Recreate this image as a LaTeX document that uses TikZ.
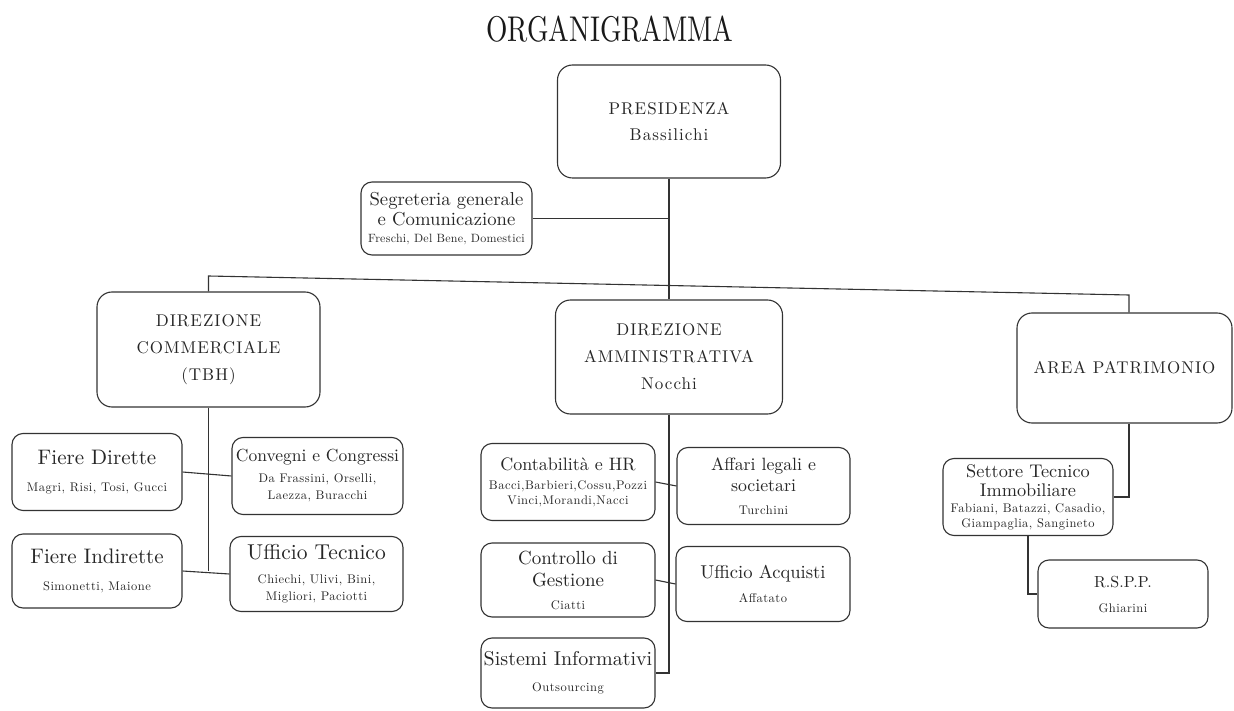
\documentclass[tikz,border=0pt]{standalone}
\usepackage{fontspec}
\usepackage{graphicx}
\setmainfont{lmroman10-regular.otf}[BoldFont=lmroman10-bold.otf,ItalicFont=lmroman10-italic.otf]
\newfontfamily\capsfam{lmroman10-regular.otf}[LetterSpace=6]
\newfontfamily\namefam{lmroman10-regular.otf}[LetterSpace=4]
\newfontfamily\segnamefam{lmroman10-regular.otf}[LetterSpace=2]
\newcommand{\capsf}{\capsfam\fontsize{17}{27}\selectfont}
\newcommand{\namef}{\namefam\fontsize{12.5}{14}\selectfont}
\newcommand{\hf}[2]{\fontsize{#1}{#2}\selectfont}
\begin{document}
\begin{tikzpicture}[x=1pt,y=-1pt,
  box/.style={draw=black!80, line width=1.1pt, rounded corners=11pt, align=center, inner sep=0pt, text=black!85},
  bigbox/.style={box, rounded corners=15pt},
  link/.style={draw=black!80, line width=1.1pt}]
\useasboundingbox (0,0) rectangle (1234,711);

\node[text=black!90] (title) at (610,29) {\fontsize{27.5}{30}\selectfont\scalebox{1}[1.3]{ORGANIGRAMMA}};

% top level
\node[bigbox, minimum width=223, minimum height=113, font=\capsf] (pres) at (669,121.5)
  {PRESIDENZA\\[-1pt]Bassilichi};
\node[box, minimum width=171, minimum height=73, font=\hf{18.7}{20}] (seg) at (446.5,218.5)
  {Segreteria generale\\e Comunicazione\\[-3pt]\segnamefam\fontsize{12}{14}\selectfont Freschi, Del Bene, Domestici};

\node[bigbox, minimum width=223, minimum height=115, font=\capsf] (dc) at (208.5,349.5)
  {DIREZIONE\\COMMERCIALE\\(TBH)};
\node[bigbox, minimum width=227, minimum height=114, font=\capsf] (da) at (669,357)
  {DIREZIONE\\AMMINISTRATIVA\\Nocchi};
\node[bigbox, minimum width=215, minimum height=110, font=\capsf] (ap) at (1124.5,368)
  {AREA PATRIMONIO};

% commerciale
\node[box, minimum width=170, minimum height=77, font=\hf{21}{24}] (fd) at (97,472)
  {Fiere Dirette\\[3pt]\namef Magri, Risi, Tosi, Gucci};
\node[box, minimum width=171, minimum height=77, font=\hf{17.5}{20}] (cc) at (317.5,476)
  {Convegni e Congressi\\[1pt]\namef Da Frassini, Orselli,\\[-3pt]\namef Laezza, Buracchi};
\node[box, minimum width=170, minimum height=74, font=\hf{21}{24}] (fi) at (97,571)
  {Fiere Indirette\\[3pt]\namef Simonetti, Maione};
\node[box, minimum width=173, minimum height=75, font=\hf{21.5}{24}] (ut) at (316.5,574)
  {Ufficio Tecnico\\[0pt]\namef Chiechi, Ulivi, Bini,\\[-7pt]\namef Migliori, Paciotti};

% amministrativa
\node[box, minimum width=174, minimum height=77, font=\hf{18}{21}] (ch) at (568,482)
  {Contabilità e HR\\[-2pt]\namef Bacci,Barbieri,Cossu,Pozzi\\[-6pt]\namef Vinci,Morandi,Nacci};
\node[box, minimum width=173, minimum height=77, font=\hf{17.8}{21}] (al) at (763.5,486)
  {Affari legali e\\societari\\[2pt]\namef Turchini};
\node[box, minimum width=174, minimum height=74, font=\hf{19}{22}] (cg) at (568,580)
  {Controllo di\\Gestione\\[1pt]\namef Ciatti};
\node[box, minimum width=174, minimum height=75, font=\hf{18.6}{21}] (ua) at (763,584)
  {Ufficio Acquisti\\[3pt]\namef Affatato};
\node[box, minimum width=174, minimum height=70, font=\hf{20}{23}] (si) at (568,673)
  {Sistemi Informativi\\[3pt]\namef Outsourcing};

% patrimonio
\node[box, minimum width=170, minimum height=77, font=\hf{18.3}{19}] (st) at (1028,497)
  {Settore Tecnico\\Immobiliare\\[-3pt]\namef Fabiani, Batazzi, Casadio,\\[-4pt]\namef Giampaglia, Sangineto};
\node[box, minimum width=170, minimum height=68, font=\hf{16}{19}] (rs) at (1123,594)
  {R.S.P.P.\\[6pt]\namef Ghiarini};

% connectors
\coordinate (barL) at (208.5,276);
\coordinate (barR) at (1129,295);
\draw[link] (pres.south) -- (da.north);
\draw[link] (seg.east) -- (seg.east -| pres.south);
\draw[link] (dc.north) -- (barL) -- (barR) -- (barR |- ap.north);

\draw[link] (dc.south) -- (dc.south |- fi.east);
\draw[link] (fd.east) -- (cc.west);
\draw[link] (fi.east) -- (ut.west);

\draw[link] (da.south) -- (da.south |- si.east) -- (si.east);
\draw[link] (ch.east) -- (al.west);
\draw[link] (cg.east) -- (ua.west);

\draw[link] (barR |- ap.south) |- (st.east);
\draw[link] (st.south) |- (rs.west);
\end{tikzpicture}
\end{document}
